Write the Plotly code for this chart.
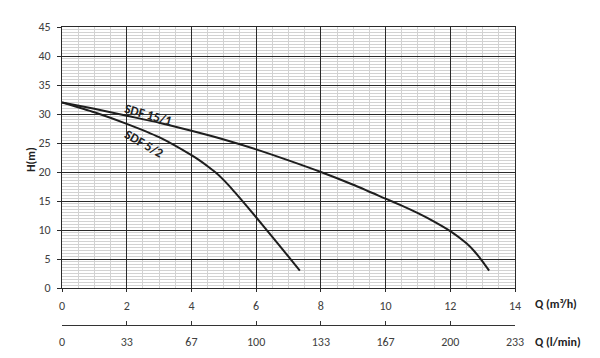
import plotly.graph_objects as go

# Data
q_15_1 = [0, 1, 2, 3, 4, 5, 6, 7, 8, 9, 10, 10.5, 11, 11.5, 12, 12.5, 12.75, 13, 13.2]
h_15_1 = [32, 30.9, 29.7, 28.5, 27.1, 25.6, 23.9, 22.0, 20.0, 17.8, 15.4, 14.2, 12.9, 11.45, 9.8, 7.7, 6.3, 4.55, 3.0]

q_5_2 = [0, 1, 2, 3, 4, 4.25, 4.5, 4.75, 5, 5.25, 5.5, 6, 6.5, 7, 7.35]
h_5_2 = [32, 30.3, 28.3, 26.0, 22.9, 22.0, 21.0, 19.9, 18.6, 17.1, 15.5, 12.2, 8.8, 5.4, 3.0]

series_names = ["SDF 15/1", "SDF 5/2"]

q_ticks = [0, 2, 4, 6, 8, 10, 12, 14]
lmin_tickvals = [0, 33.33, 66.67, 100, 133.33, 166.67, 200, 233.33]
lmin_ticktext = ["0", "33", "67", "100", "133", "167", "200", "233"]
h_ticks = [0, 5, 10, 15, 20, 25, 30, 35, 40, 45]

FONT = "Calibri, Carlito, Lato, sans-serif"
LINE = "#1e1e1e"
GRID_MAJOR = "#2a2a2a"
GRID_MINOR = "#d2d2d2"

fig = go.Figure()
fig.add_trace(go.Scatter(x=q_15_1, y=h_15_1, mode="lines", name=series_names[0],
                         line=dict(color=LINE, width=2, shape="spline", smoothing=0.6),
                         showlegend=False))
fig.add_trace(go.Scatter(x=q_5_2, y=h_5_2, mode="lines", name=series_names[1],
                         line=dict(color=LINE, width=2, shape="spline", smoothing=0.6),
                         showlegend=False))
# invisible trace to carry the l/min axis
fig.add_trace(go.Scatter(x=[0, 233.33], y=[None, None], xaxis="x2", yaxis="y",
                         mode="lines", showlegend=False, hoverinfo="skip"))

fig.update_layout(
    width=592, height=350,
    margin=dict(l=54, r=85, t=19, b=33, autoexpand=False),
    paper_bgcolor="white", plot_bgcolor="white",
    font=dict(family=FONT, size=12, color="#404040"),
    xaxis=dict(range=[0, 14], tickvals=q_ticks, domain=[0, 1], anchor="y",
               showgrid=True, gridcolor=GRID_MAJOR, gridwidth=1,
               minor=dict(dtick=0.5, showgrid=True, gridcolor=GRID_MINOR, gridwidth=1),
               showline=True, linecolor=GRID_MAJOR, linewidth=1, mirror=True,
               ticks="outside", ticklen=3, tickcolor=GRID_MAJOR,
               ticklabelstandoff=4, zeroline=False, automargin=False),
    xaxis2=dict(range=[0, 233.33], tickvals=lmin_tickvals, ticktext=lmin_ticktext,
                overlaying="x", anchor="free", position=0, side="bottom",
                showgrid=False, showline=True, linecolor="#333", linewidth=1,
                ticks="inside", ticklen=4, tickcolor="#333",
                ticklabelstandoff=6, zeroline=False, automargin=False),
    yaxis=dict(range=[0, 45], tickvals=h_ticks, domain=[37 / 298, 1],
               showgrid=True, gridcolor=GRID_MAJOR, gridwidth=1,
               minor=dict(dtick=0.5, showgrid=True, gridcolor=GRID_MINOR, gridwidth=1),
               showline=True, linecolor=GRID_MAJOR, linewidth=1, mirror=True,
               ticks="outside", ticklen=4, tickcolor=GRID_MAJOR,
               ticklabelstandoff=4, zeroline=False, automargin=False),
)

fig.add_annotation(text="<b>SDF 15/1</b>", x=2.66, y=29.9, xref="x", yref="y",
                   showarrow=False, textangle=16, font=dict(family=FONT, size=13, color="#222"))
fig.add_annotation(text="<b>SDF 5/2</b>", x=2.53, y=24.9, xref="x", yref="y",
                   showarrow=False, textangle=30, font=dict(family=FONT, size=13, color="#222"))

fig.add_annotation(text="<b>H(m)</b>", x=(22 - 62) / 453, y=(325 - 160) / 298,
                   xref="paper", yref="paper", showarrow=False, textangle=-90,
                   font=dict(family=FONT, size=12, color="#222"))
fig.add_annotation(text="<b>Q (m³/h)</b>", x=(533 - 62) / 453, y=(325 - 304) / 298,
                   xref="paper", yref="paper", xanchor="left", yanchor="middle",
                   showarrow=False, font=dict(family=FONT, size=12, color="#222"))
fig.add_annotation(text="<b>Q (l/min)</b>", x=(533 - 62) / 453, y=(325 - 342) / 298,
                   xref="paper", yref="paper", xanchor="left", yanchor="middle",
                   showarrow=False, font=dict(family=FONT, size=12, color="#222"))

fig.write_html("out.html")
